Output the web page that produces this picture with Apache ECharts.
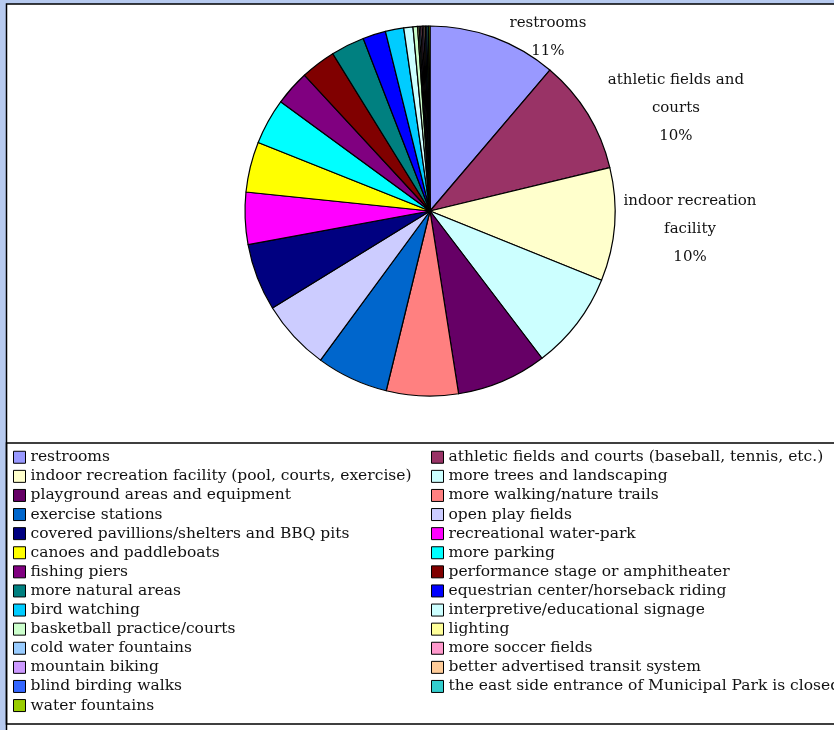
<!DOCTYPE html>
<html>
<head>
<meta charset="utf-8">
<title>Park improvements requested</title>
<script src="https://cdn.jsdelivr.net/npm/echarts@6/dist/echarts.min.js"></script>
<style>
  html, body { margin: 0; padding: 0; background: #b7caef; }
  #chart { width: 834px; height: 730px; }
</style>
</head>
<body>
<div id="chart"></div>
<script>
// Survey answers: which park improvements people asked for
const categories = [
  'restrooms',
  'athletic fields and courts (baseball, tennis, etc.)',
  'indoor recreation facility (pool, courts, exercise)',
  'more trees and landscaping',
  'playground areas and equipment',
  'more walking/nature trails',
  'exercise stations',
  'open play fields',
  'covered pavillions/shelters and BBQ pits',
  'recreational water-park',
  'canoes and paddleboats',
  'more parking',
  'fishing piers',
  'performance stage or amphitheater',
  'more natural areas',
  'equestrian center/horseback riding',
  'bird watching',
  'interpretive/educational signage',
  'basketball practice/courts',
  'lighting',
  'cold water fountains',
  'more soccer fields',
  'mountain biking',
  'better advertised transit system',
  'blind birding walks',
  'the east side entrance of Municipal Park is closed',
  'water fountains'
];

const responses = [84, 75, 74, 64, 59, 47, 47, 46, 44, 34, 33, 30, 23, 23, 22, 15, 12, 6, 3, 1, 1, 1, 1, 1, 1, 1, 1];

const sliceColors = [
  '#9999FF', '#993366', '#FFFFCC', '#CCFFFF', '#660066', '#FF8080', '#0066CC',
  '#CCCCFF', '#000080', '#FF00FF', '#FFFF00', '#00FFFF', '#800080', '#800000',
  '#008080', '#0000FF', '#00CCFF', '#CCFFFF', '#CCFFCC', '#FFFF99', '#99CCFF',
  '#FF99CC', '#CC99FF', '#FFCC99', '#3366FF', '#33CCCC', '#99CC00'
];

// Short captions printed beside the three largest slices
const sliceLabels = ['restrooms', 'athletic fields and\ncourts', 'indoor recreation\nfacility'];
// Label line lengths that push each caption into place: [length, length2]
const labelOffsets = [[0.4, 10.5], [11.6, 5.3], [2, 2]];
// Extra top padding so a caption sits a little lower
const labelTopPad = [0, 0, 8];

const serif = 'DejaVu Serif';

const pieData = categories.map(function (name, i) {
  const item = { name: name, value: responses[i], itemStyle: { color: sliceColors[i] } };
  if (i < sliceLabels.length) {
    item.label = { show: true, padding: [labelTopPad[i], 0, 0, 0] };
    item.labelLine = { show: false, length: labelOffsets[i][0], length2: labelOffsets[i][1] };
  }
  return item;
});

const leftColumn = categories.filter(function (_, i) { return i % 2 === 0; });
const rightColumn = categories.filter(function (_, i) { return i % 2 === 1; });

function legendColumn(left, names) {
  return {
    orient: 'vertical',
    left: left,
    top: 447.7,
    padding: 0,
    itemGap: 0,
    itemWidth: 12,
    itemHeight: 12,
    icon: 'rect',
    selectedMode: false,
    data: names,
    itemStyle: { borderColor: '#000', borderWidth: 1 },
    textStyle: { fontFamily: serif, fontSize: 15.5, color: '#111', lineHeight: 19.1 }
  };
}

const chart = echarts.init(document.getElementById('chart'), null, { renderer: 'canvas' });

chart.setOption({
  backgroundColor: '#b7caef',
  animation: false,
  graphic: [
    {
      type: 'rect',
      z: -10,
      shape: { x: 6.5, y: 4, width: 900, height: 800 },
      style: { fill: '#ffffff', stroke: '#000', lineWidth: 1.5 }
    },
    {
      type: 'rect',
      z: -9,
      shape: { x: 6.5, y: 443, width: 900, height: 281 },
      style: { fill: 'none', stroke: '#000', lineWidth: 1.5 }
    }
  ],
  legend: [legendColumn(13, leftColumn), legendColumn(431, rightColumn)],
  series: [{
    type: 'pie',
    center: [430, 211],
    radius: 185,
    startAngle: 90,
    clockwise: true,
    avoidLabelOverlap: false,
    silent: true,
    itemStyle: { borderColor: '#000', borderWidth: 1.2 },
    label: {
      show: false,
      position: 'outside',
      distanceToLabelLine: 5,
      fontFamily: serif,
      fontSize: 15,
      color: '#111',
      formatter: function (p) {
        const caption = sliceLabels[p.dataIndex];
        if (caption === undefined) return '';
        const lines = caption.split('\n');
        lines.push(Math.round(p.percent) + '%');
        return lines.map(function (s) { return '{c|' + s + '}'; }).join('\n');
      },
      rich: {
        c: { align: 'center', fontFamily: serif, fontSize: 15, lineHeight: 28, color: '#111' }
      }
    },
    labelLine: { show: false },
    emphasis: { disabled: true },
    data: pieData
  }]
});
</script>
</body>
</html>
